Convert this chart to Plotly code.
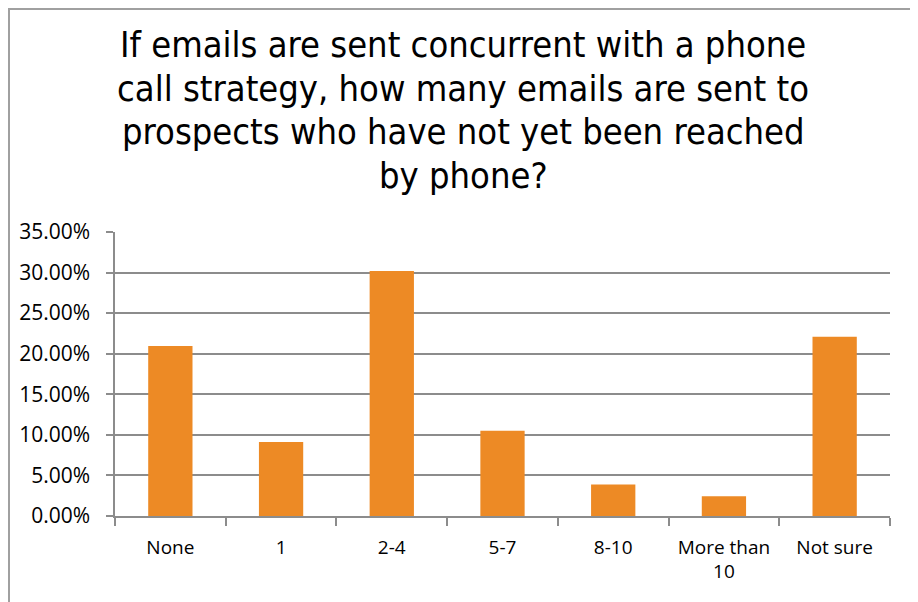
import plotly.graph_objects as go

categories = ["None", "1", "2-4", "5-7", "8-10", "More than<br>10", "Not sure"]
values = [0.2095, 0.0912, 0.3020, 0.1050, 0.0387, 0.0243, 0.2210]
y_ticks = [0, 0.05, 0.10, 0.15, 0.20, 0.25, 0.30, 0.35]
y_labels = ["0.00%", "5.00%", "10.00%", "15.00%", "20.00%", "25.00%", "30.00%", "35.00%"]
title_lines = [
    "If emails are sent concurrent with a phone",
    "call strategy, how many emails are sent to",
    "prospects who have not yet been reached",
    "by phone?",
]

W, H = 918, 602
L, R, T, B = 107, 36, 224, 94
ph = H - T - B
pw = W - L - R

fig = go.Figure(go.Bar(
    x=categories, y=values,
    marker=dict(color="#ED8A25", line=dict(width=0)),
    width=0.4,
))

grid = "#8C8C8C"
fig.update_layout(
    width=W, height=H,
    margin=dict(l=L, r=R, t=T, b=B),
    paper_bgcolor="white", plot_bgcolor="white",
    showlegend=False,
    font=dict(family="Open Sans, Lato, sans-serif", size=19, color="#000000"),
    xaxis=dict(
        type="category",
        showgrid=False,
        showline=True, linecolor=grid, linewidth=1.5,
        ticks="outside", tickson="boundaries", ticklen=8, tickcolor=grid, tickwidth=1.5,
        tickfont=dict(size=19),
        ticklabelstandoff=13,
    ),
    yaxis=dict(
        range=[0, 0.35],
        tickvals=y_ticks, ticktext=y_labels,
        showgrid=True, gridcolor=grid, gridwidth=1.5,
        showline=True, linecolor=grid, linewidth=1.5,
        ticks="outside", ticklen=7, tickcolor=grid, tickwidth=1.5,
        tickfont=dict(size=21),
        ticklabelstandoff=12,
        zeroline=False,
    ),
    bargap=0.6,
)

# title lines (figure-pixel centers)
title_cx = 455
centers = [36.5, 80.5, 123.5, 167.5]
for line, cy in zip(title_lines, centers):
    fig.add_annotation(
        text=line, xref="paper", yref="paper",
        x=(title_cx - L) / pw, xanchor="center",
        y=(H - B - cy) / ph, yanchor="middle",
        showarrow=False,
        font=dict(family="DejaVu Sans Condensed, Liberation Sans Narrow, sans-serif", size=36, color="#000000"),
    )

# outer chart border
fig.add_shape(
    type="rect", xref="paper", yref="paper",
    x0=(1 - L) / pw, x1=(905 - L) / pw,
    y0=(H - B - 640) / ph, y1=(H - B - 1) / ph,
    line=dict(color="#A0A0A0", width=2), fillcolor="rgba(0,0,0,0)",
    layer="below",
)

fig.write_html("out.html")
